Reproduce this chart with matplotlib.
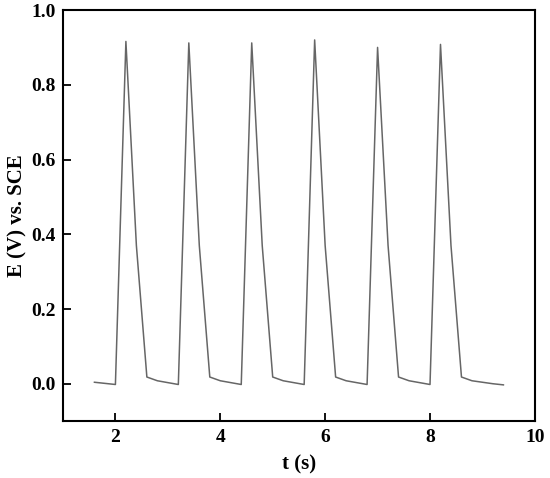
import numpy as np
import matplotlib.pyplot as plt

plt.rcParams['font.family'] = 'Liberation Serif'
plt.rcParams['font.weight'] = 'bold'

t = [1.6, 1.8, 2.0, 2.2, 2.4, 2.6, 2.8, 3.0, 3.2,
     3.4, 3.6, 3.8, 4.0, 4.2, 4.4,
     4.6, 4.8, 5.0, 5.2, 5.4, 5.6,
     5.8, 6.0, 6.2, 6.4, 6.6, 6.8,
     7.0, 7.2, 7.4, 7.6, 7.8, 8.0,
     8.2, 8.4, 8.6, 8.8, 9.0, 9.2, 9.4]
E = [0.004, 0.001, -0.002, 0.916, 0.37, 0.018, 0.008, 0.003, -0.002,
     0.912, 0.37, 0.018, 0.008, 0.003, -0.002,
     0.912, 0.37, 0.018, 0.008, 0.003, -0.002,
     0.920, 0.37, 0.018, 0.008, 0.003, -0.002,
     0.900, 0.37, 0.018, 0.008, 0.003, -0.002,
     0.908, 0.37, 0.018, 0.008, 0.004, 0.0, -0.003]

fig = plt.figure(figsize=(5.5, 4.78), dpi=100)
ax = fig.add_axes([0.1145, 0.119, 0.858, 0.86])
ax.plot(t, E, color='#666666', lw=1.1)

ax.set_xlim(1, 10)
ax.set_ylim(-0.1, 1.0)
ax.set_xticks([2, 4, 6, 8, 10])
ax.set_yticks(np.arange(0, 1.01, 0.2))
ax.yaxis.set_major_formatter(plt.FormatStrFormatter('%.1f'))
ax.tick_params(direction='in', length=6, width=1.3, labelsize=14)
ax.tick_params(axis='x', pad=6)
ax.tick_params(axis='y', pad=5)
for s in ax.spines.values():
    s.set_linewidth(1.5)
ax.set_xlabel('t (s)', fontsize=15, fontweight='bold', labelpad=6)
ax.set_ylabel('E (V) vs. SCE', fontsize=15, fontweight='bold', labelpad=3)

fig.savefig('out.png', dpi=100)
